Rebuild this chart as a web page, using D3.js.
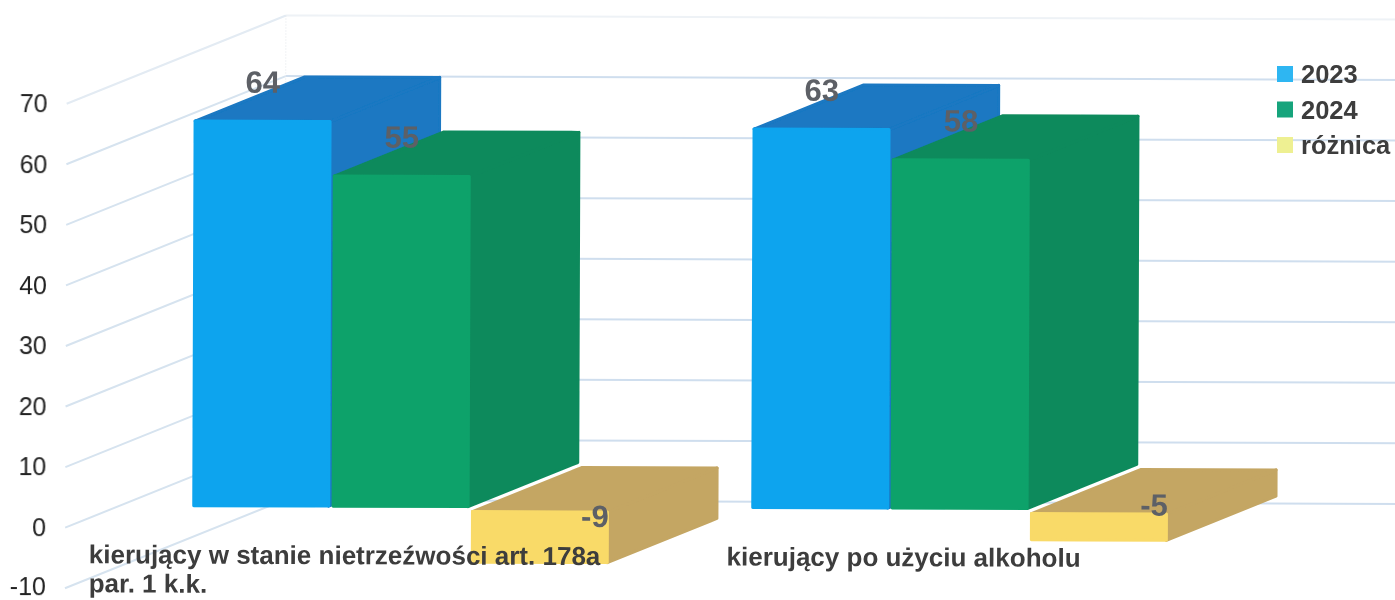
<!DOCTYPE html>
<html>
<head>
<meta charset="utf-8">
<script src="https://cdn.jsdelivr.net/npm/d3@7"></script>
<style>
  html, body { margin: 0; padding: 0; background: #fff; }
  svg { display: block; font-family: "Liberation Sans", Arial, sans-serif; }
</style>
</head>
<body>
<div id="chart"></div>
<script>
// data
const categories = ['first', 'second'];
const categoryLines = [
    ['kierujący w stanie nietrzeźwości art. 178a', 'par. 1 k.k.'],
    ['kierujący po użyciu alkoholu']
];
const seriesNames = ['2023', '2024', 'różnica'];
const values2023 = [64, 63];
const values2024 = [55, 58];
const valuesDiff = [-9, -5];
const yTicks = [-10, 0, 10, 20, 30, 40, 50, 60, 70];

const seriesValues = [values2023, values2024, valuesDiff];

// front / top+side colours of each series
const frontColors = ['#0ea4ee', '#0aa26b', '#f9da68'];
const sideColors = ['#1a78c2', '#0e8a5c', '#c4a664'];
const legendColors = ['#2db6f2', '#17a47c', '#eef092'];

const width = 1395, height = 600;

// oblique projection of the 3D box
const wallLeft = 67;
const wallDepthX = 219, wallDepthY = 89;
const barFront = 0.23, barBack = 0.73;

const svg = d3.select('#chart').append('svg')
    .attr('width', width)
    .attr('height', height);

// soft edges, the reference is a scan
svg.append('defs').append('filter')
    .attr('id', 'soft')
    .attr('filterUnits', 'userSpaceOnUse')
    .attr('x', 0).attr('y', 0)
    .attr('width', width).attr('height', height)
    .append('feGaussianBlur')
    .attr('stdDeviation', 0.5);

const root = svg.append('g').attr('filter', 'url(#soft)');

// the whole plot sits slightly tilted, like a scanned page
const g = root.append('g').attr('transform', 'rotate(0.2)');

const yScale = d3.scaleLinear().domain([-10, 70]).range([588, 103.5]);
const xScale = d3.scaleBand().domain(categories).range([72.5, 1190.5])
    .paddingInner(0.252).paddingOuter(0.126);
const innerScale = d3.scaleBand().domain(seriesNames).range([0, xScale.bandwidth()]);

const project = (x, v, t, shift = 0) => [x + wallDepthX * t, yScale(v) - wallDepthY * t + shift];

// side wall and back wall gridlines
yTicks.forEach(tick => {
    const front = project(wallLeft, tick, 0);
    const back = project(wallLeft, tick, 1);
    const faint = tick === 70;
    g.append('line')
        .attr('x1', front[0]).attr('y1', front[1])
        .attr('x2', back[0]).attr('y2', back[1])
        .style('stroke', faint ? '#e3ebf3' : '#d6e3ef')
        .style('stroke-width', 2);
    g.append('line')
        .attr('x1', back[0]).attr('y1', back[1])
        .attr('x2', width + 10).attr('y2', back[1])
        .style('stroke', faint ? '#eef2f6' : '#cfdeee')
        .style('stroke-width', 2);
});

const cornerTop = project(wallLeft, 70, 1);
const cornerBottom = project(wallLeft, -10, 1);
g.append('line')
    .attr('x1', cornerTop[0]).attr('y1', cornerTop[1])
    .attr('x2', cornerBottom[0]).attr('y2', cornerBottom[1])
    .style('stroke', '#e2e6ea')
    .style('stroke-dasharray', '1,2');

// y axis labels
const yAxis = d3.axisLeft(yScale)
    .tickValues(yTicks)
    .tickFormat(d => String(d))
    .tickSize(0)
    .tickPadding(19);
const yAxisG = g.append('g')
    .attr('transform', `translate(${wallLeft}, 0)`)
    .call(yAxis);
yAxisG.select('.domain').remove();
yAxisG.selectAll('text')
    .attr('dy', d => d === -10 ? '0.24em' : '0.32em') // lowest one has to stay inside the page
    .style('font-family', '"Liberation Sans", Arial, sans-serif')
    .style('font-size', '25px')
    .style('fill', '#222');

// bars, drawn back-to-front inside each category
const poly = d3.line();
const inset = 2.2;

categories.forEach((cat, c) => {
    seriesNames.forEach((name, s) => {
        const v = seriesValues[s][c];
        const x0 = xScale(cat) + innerScale(name) + inset;
        const x1 = x0 + innerScale.bandwidth() - inset * 2;
        const top = Math.max(v, 0), bottom = Math.min(v, 0);
        // the negative box sits a little under the zero plane
        const topShift = v < 0 ? 3 : 1;
        const bottomShift = v < 0 ? -1 : -2;

        const faces = [
            { color: sideColors[s], pts: [ // right side
                project(x1, top, barFront, topShift), project(x1, top, barBack, topShift),
                project(x1, bottom, barBack, bottomShift), project(x1, bottom, barFront, bottomShift)] },
            { color: sideColors[s], pts: [ // top
                project(x0, top, barFront, topShift), project(x0, top, barBack, topShift),
                project(x1, top, barBack, topShift), project(x1, top, barFront, topShift)] },
            { color: frontColors[s], pts: [ // front
                project(x0, top, barFront, topShift), project(x1, top, barFront, topShift),
                project(x1, bottom, barFront, bottomShift), project(x0, bottom, barFront, bottomShift)] }
        ];

        g.selectAll(null)
            .data(faces)
            .join('path')
            .attr('d', d => poly(d.pts) + 'Z')
            .style('fill', d => d.color)
            .style('stroke', d => d.color)
            .style('stroke-width', 3)
            .style('stroke-linejoin', 'round');
    });
});

// value labels: tall bars get them over the top edge, negative ones on the top face
const negativeLift = { '-9': 47, '-5': 36 };
categories.forEach((cat, c) => {
    seriesNames.forEach((name, s) => {
        const v = seriesValues[s][c];
        const cx = xScale(cat) + innerScale(name) + innerScale.bandwidth() / 2 + wallDepthX * barFront;
        const px = v < 0 ? cx + 55 : cx;
        const py = yScale(v) - wallDepthY * barFront - (v < 0 ? negativeLift[v] : 38);
        g.append('text')
            .attr('x', px)
            .attr('y', py)
            .attr('text-anchor', 'middle')
            .attr('dominant-baseline', 'central')
            .style('font-size', '31px')
            .style('font-weight', 'bold')
            .style('fill', '#5d6066')
            .text(v);
    });
});

// category labels, left aligned block centred under the band
categories.forEach((cat, c) => {
    const centre = wallLeft + (xScale.step() * (c + 0.5));
    const label = g.append('text')
        .style('font-size', '26px')
        .style('font-weight', 'bold')
        .style('fill', '#3c3c3c');
    const spans = label.selectAll('tspan')
        .data(categoryLines[c])
        .join('tspan')
        .text(d => d);
    const widest = d3.max(spans.nodes(), n => n.getComputedTextLength());
    spans.attr('x', centre - widest / 2)
        .attr('y', (d, i) => 563 + i * 29);
});

// legend
const legend = root.append('g');
const legendY = d3.scalePoint().domain(seriesNames).range([74, 145]);
seriesNames.forEach((name, i) => {
    legend.append('rect')
        .attr('x', 1277)
        .attr('y', legendY(name) - 8)
        .attr('width', 16)
        .attr('height', 16)
        .style('fill', legendColors[i]);
    legend.append('text')
        .attr('x', 1301)
        .attr('y', legendY(name))
        .attr('dominant-baseline', 'central')
        .style('font-size', '25.5px')
        .style('font-weight', 'bold')
        .style('fill', '#3c3c3c')
        .text(name);
});
</script>
</body>
</html>
